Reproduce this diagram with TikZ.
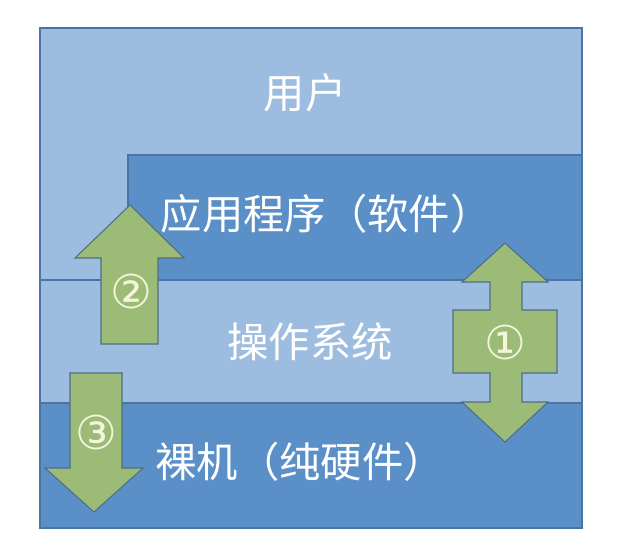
\documentclass[tikz,border=0pt]{standalone}
\usepackage{fontspec}
\newfontfamily\cjk{Noto Sans CJK SC}
\newfontfamily\sym{DejaVu Sans}
\definecolor{lightblue}{HTML}{9DBDE0}
\definecolor{darkblue}{HTML}{5A8FC8}
\definecolor{edgeblue}{HTML}{4A74A4}
\definecolor{arrowgreen}{HTML}{9BBB76}
\definecolor{arrowedge}{HTML}{4F6E86}
\definecolor{cream}{HTML}{F4F6DC}
\begin{document}
\begin{tikzpicture}[x=0.75pt, y=-0.75pt,
    layer/.style={draw=edgeblue, line width=0.8pt},
    bigarrow/.style={fill=arrowgreen, draw=arrowedge, line width=0.8pt},
    label/.style={text=white, font=\cjk\fontsize{31}{34}\selectfont},
    num/.style={text=cream, font=\sym\fontsize{35}{38}\selectfont}]
				\useasboundingbox (0,0) rectangle (627,558);
				% Draw the layers
				\fill[white] (0,0) rectangle (627,558);
				\draw[layer, fill=lightblue] (40,28) rectangle (582,280);
				\draw[layer, fill=darkblue] (128,155) rectangle (582,280);
				\draw[layer, fill=lightblue] (40,280) rectangle (582,403);
				\draw[layer, fill=darkblue] (40,403) rectangle (582,528);

				% Draw the arrows
				\draw[bigarrow] (101,344) -- (101,258) -- (75,258) -- (130,205)
				  -- (184,258) -- (158,258) -- (158,344) -- cycle;
				\draw[bigarrow] (70,373) -- (70,468) -- (45,468) -- (94,512)
				  -- (143,468) -- (122,468) -- (122,373) -- cycle;
				\draw[bigarrow] (505,243) -- (548,282) -- (522,282) -- (522,310)
				  -- (557,310) -- (557,373) -- (522,373) -- (522,402) -- (548,402)
				  -- (505,442) -- (462,402) -- (490,402) -- (490,373) -- (453,373)
				  -- (453,310) -- (490,310) -- (490,282) -- (462,282) -- cycle;

				% Labels
				\node[label] (user) at (305,93) {用户};
				\node[label] (app) at (326,214) {应用程序（软件）};
				\node[label] (os) at (310,342) {操作系统};
				\node[label] (hw) at (300,462) {裸机（纯硬件）};
				\node[num] (one) at (505,342) {①};
				\node[num] (two) at (131,291) {②};
				\node[num] (three) at (96,432) {③};
			\end{tikzpicture}
\end{document}
